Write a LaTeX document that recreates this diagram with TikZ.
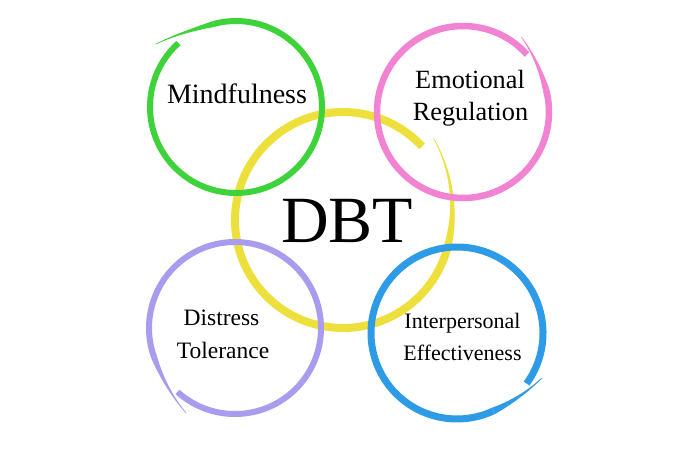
\documentclass[tikz,border=0pt]{standalone}
\usepackage{fontspec}
\newfontfamily\tms{LiberationSerif}[Extension=.ttf,UprightFont=*-Regular]
\usetikzlibrary{calc}
\definecolor{cgreen}{HTML}{3ED33A}
\definecolor{cpink}{HTML}{F282D2}
\definecolor{cyellow}{HTML}{EEE03C}
\definecolor{cpurple}{HTML}{A99CEF}
\definecolor{cblue}{HTML}{2E9BE6}
% #1 cx, #2 cy, #3 radius, #4 start angle, #5 body end angle, #6 tail end angle, #7 width, #8 outward drift, #9 colour
\newcommand\brushring[9]{%
  \draw[#9,line width=#7pt] ($(#1pt,#2pt)+(#4:#3pt)$) arc[start angle=#4,end angle=#5,radius=#3pt];
  \fill[#9] plot[domain=0:1,samples=40]
    ({#1+(#3+#8*\x*\x+0.5*(0.7+(#7-0.7)*(1-\x)*(1-0.5*\x)))*cos(#5+\x*(#6-#5))},
     {#2+(#3+#8*\x*\x+0.5*(0.7+(#7-0.7)*(1-\x)*(1-0.5*\x)))*sin(#5+\x*(#6-#5))})
    -- plot[domain=0:1,samples=40]
    ({#1+(#3+#8*(1-\x)*(1-\x)-0.5*(0.7+(#7-0.7)*\x*(0.5+0.5*\x)))*cos(#6-\x*(#6-#5))},
     {#2+(#3+#8*(1-\x)*(1-\x)-0.5*(0.7+(#7-0.7)*\x*(0.5+0.5*\x)))*sin(#6-\x*(#6-#5))})
    -- cycle;
}
\tikzset{lbl/.style={inner sep=0pt,anchor=base,text=black}}
\begin{document}
\begin{tikzpicture}[x=1pt,y=1pt]
\useasboundingbox[fill=white] (0,0) rectangle (700,-450);
% rings
\brushring{343}{-220}{108}{43}{345}{402}{8}{14}{cyellow}
\brushring{236}{-107}{86}{132}{465}{502}{6}{16}{cgreen}
\brushring{463}{-112}{86}{42}{375}{412}{6.5}{9}{cpink}
\brushring{235}{-328}{86}{228}{560}{600}{6}{12}{cpurple}
\brushring{457}{-333}{86}{324}{655}{692}{7}{10}{cblue}
% labels
\node[lbl,font=\tms\fontsize{28}{30}\selectfont] (mind) at (237,-103) {Mindfulness};
\node[lbl,font=\tms\fontsize{26.3}{30}\selectfont] (emo1) at (470,-88) {Emotional};
\node[lbl,font=\tms\fontsize{26.3}{30}\selectfont] (emo2) at (470.5,-120) {Regulation};
\node[lbl,font=\tms\fontsize{23.5}{28}\selectfont] (dis1) at (221.5,-325) {Distress};
\node[lbl,font=\tms\fontsize{23.5}{28}\selectfont] (dis2) at (223,-358) {Tolerance};
\node[lbl,font=\tms\fontsize{22}{26}\selectfont] (int1) at (462.5,-328) {Interpersonal};
\node[lbl,font=\tms\fontsize{22}{26}\selectfont] (int2) at (462.5,-360) {Effectiveness};
\node[lbl,font=\tms\fontsize{66}{70}\selectfont] (dbt) at (347,-242) {DBT};
\end{tikzpicture}
\end{document}
